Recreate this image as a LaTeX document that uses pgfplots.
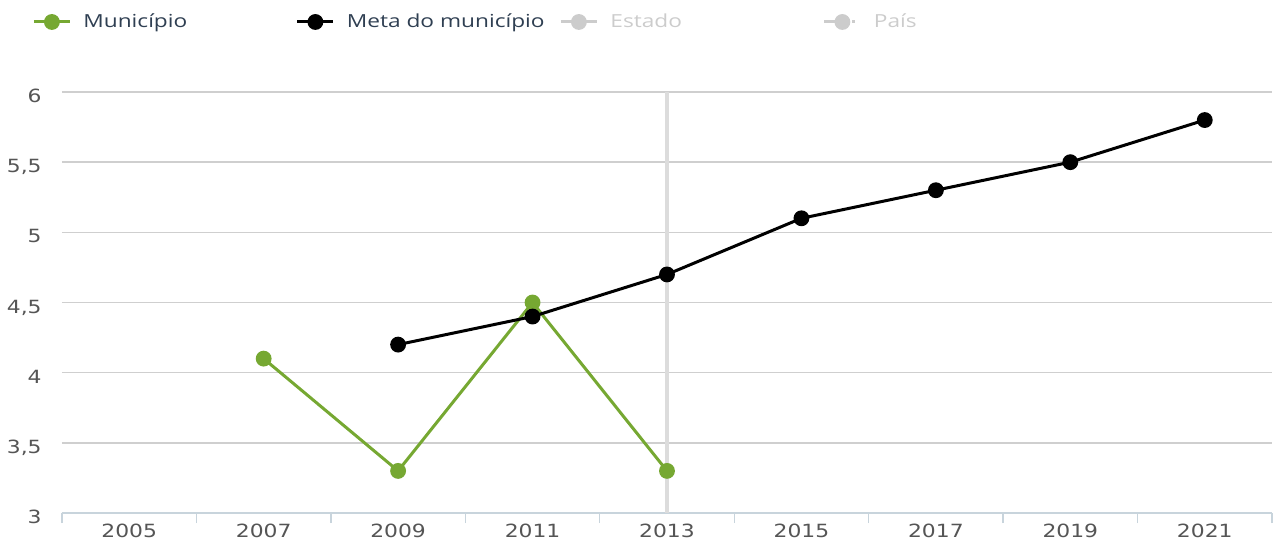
\documentclass[border=0pt]{standalone}
\usepackage{pgfplots}
\pgfplotsset{compat=1.18}
\usepackage{fontspec}
\setmainfont{DejaVu Sans}
\newfontfamily\tickfont[FakeStretch=1.2]{DejaVu Sans}
\newfontfamily\legfont[FakeStretch=1.26]{Open Sans}
\definecolor{mungreen}{HTML}{76A832}
\definecolor{legtext}{HTML}{2F3F52}
\definecolor{hidden}{HTML}{CCCCCC}
\definecolor{gridc}{HTML}{CFCFCF}
\definecolor{axisc}{HTML}{C8D4DC}
\definecolor{tickc}{HTML}{555555}
\definecolor{crossc}{HTML}{DCDCDC}
\begin{document}
\begin{tikzpicture}
\begin{axis}[
  at={(0,0)}, anchor=south west,
  scale only axis,
  width=605pt, height=210.5pt,
  xmin=-0.5, xmax=8.5,
  ymin=3, ymax=6,
  clip=false,
  axis lines*=left,
  y axis line style={draw=none},
  x axis line style={draw=axisc, line width=0.7pt},
  xtick={0,1,2,3,4,5,6,7,8},
  xticklabels={2005,2007,2009,2011,2013,2015,2017,2019,2021},
  minor xtick={-0.5,0.5,1.5,2.5,3.5,4.5,5.5,6.5,7.5,8.5},
  ytick={3,3.5,4,4.5,5,5.5,6},
  tick align=outside,
  major tick length=0pt,
  minor tick length=5pt,
  minor tick style={draw=axisc, line width=0.7pt},
  ymajorgrids,
  major grid style={draw=gridc, line width=0.75pt},
  /pgf/number format/assume math mode=true,
  /pgf/number format/use comma,
  xticklabel style={font=\tickfont\fontsize{9.1}{10}\selectfont, text=tickc, anchor=base, yshift=-12pt, inner sep=0pt},
  yticklabel style={font=\tickfont\fontsize{9.1}{10}\selectfont, text=tickc, anchor=base east, xshift=-10pt, yshift=-5.3pt, inner sep=0pt},
  legend columns=4,
  legend cell align=left,
  legend style={at={(axis description cs:-0.0248,1.1663)}, anchor=west, draw=none, fill=none, inner sep=0pt,
    nodes={inner sep=0pt},
    font=\legfont\fontsize{9}{10}\selectfont},
  /tikz/every odd column/.append style={column sep=6pt},
  legend image code/.code={\draw[mark repeat=2,mark phase=2,#1] plot coordinates {(0pt,0pt) (9pt,0pt) (18pt,0pt)};},
]
\addplot[crossc, line width=2pt, forget plot] coordinates {(4,3) (4,6)};
\addplot[mungreen, line width=1.5pt, mark=*, mark size=3.2pt, mark options={solid, fill=mungreen, draw=mungreen}]
  coordinates {(1,4.1) (2,3.3) (3,4.5) (4,3.3)};
\addlegendentry{\makebox[106.25pt][l]{\textcolor{legtext}{Município}}}
\addplot[black, line width=1.5pt, mark=*, mark size=3.2pt, mark options={solid, fill=black}]
  coordinates {(2,4.2) (3,4.4) (4,4.7) (5,5.1) (6,5.3) (7,5.5) (8,5.8)};
\addlegendentry{\makebox[106.25pt][l]{\textcolor{legtext}{Meta do município}}}
\addlegendimage{hidden, line width=1.5pt, mark=*, mark size=3.2pt, mark options={solid, fill=hidden}}
\addlegendentry{\makebox[106.25pt][l]{\textcolor{hidden}{Estado}}}
\addlegendimage{hidden, line width=1.5pt, dash pattern=on 7pt off 7pt on 1.5pt off 10pt, mark=*, mark size=3.2pt, mark options={solid, fill=hidden}}
\addlegendentry{\makebox[106.25pt][l]{\textcolor{hidden}{País}}}
\end{axis}
\pgfresetboundingbox
\path[use as bounding box] (-31pt,-14pt) rectangle (606.5pt,256.5pt);
\end{tikzpicture}
\end{document}
